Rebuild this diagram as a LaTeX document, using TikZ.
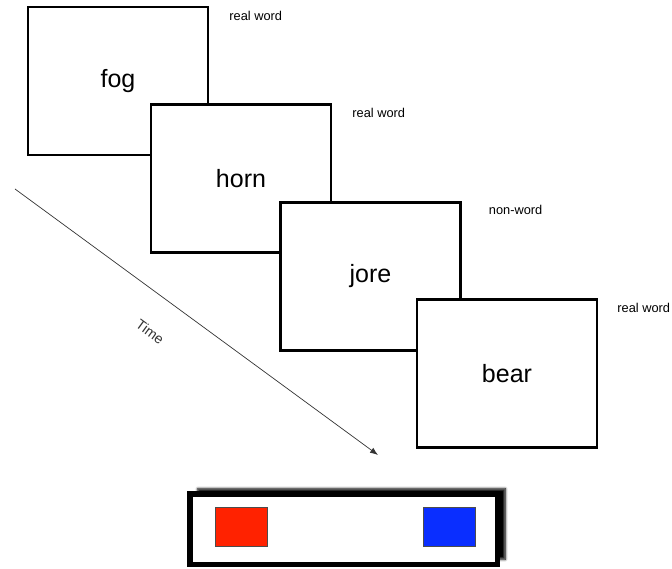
\documentclass[tikz,border=0pt]{standalone}
\usepackage{fontspec}
\setmainfont{Liberation Sans}
\usepackage{xcolor}
\usetikzlibrary{arrows.meta,positioning,calc,shadows.blur}
\definecolor{keyred}{RGB}{255,34,0}
\definecolor{keyblue}{RGB}{10,46,255}

\begin{document}
\begin{tikzpicture}[
    x=1pt, y=-1pt,
    every node/.style={font=\fontsize{12}{14}\selectfont},
    card/.style={
        rectangle,
        draw,
        fill=white,
        line width=2.4pt,
        minimum width=180pt,
        minimum height=148pt,
        font=\fontsize{25}{30}\selectfont
    },
    tag/.style={
        inner sep=0pt,
        font=\fontsize{12.8}{15}\selectfont
    },
    keybox/.style={
        rectangle,
        draw=black!70,
        line width=0.6pt,
        minimum width=52pt,
        minimum height=39pt,
        inner sep=0pt
    },
    arrow/.style={-{Latex[length=8pt,width=6pt]}, line width=0.7pt, black!80}
]
\useasboundingbox (0,0) rectangle (672,569);

% stimulus cards
\node[card] (fog) at (118,81) {fog};
\node[card] (horn) at (241,178.5) {horn};
\node[card] (jore) at (370.5,276.5) {jore};
\node[card] (bear) at (507,373.5) {bear};

\node[tag, below right=5pt and 20pt of fog.north east] (fogtag) {real word};
\node[tag, below right=5pt and 20pt of horn.north east] (horntag) {real word};
\node[tag, below right=4pt and 27pt of jore.north east] (joretag) {non-word};
\node[tag, below right=5pt and 19pt of bear.north east] (beartag) {real word};

% time axis
\coordinate (tstart) at (15,189);
\coordinate (tend) at (378,455);
\draw[arrow] (tstart) -- node[pos=0.43, sloped, below=30pt, inner sep=0pt,
    font=\fontsize{14}{16}\selectfont] (timelab) {Time} (tend);

% response box
\node[draw, fill=white, line width=5.5pt, minimum width=307.5pt, minimum height=70.5pt,
    blur shadow={shadow xshift=8pt, shadow yshift=5pt, shadow opacity=100,
    shadow blur radius=2.5pt, shadow blur steps=6}] (resp) at (343.5,529) {};
\node[keybox, fill=keyred, right=28pt of resp.west, yshift=2.5pt] (redkey) {};
\node[keybox, fill=keyblue, left=24pt of resp.east, yshift=2.5pt] (bluekey) {};

\end{tikzpicture}
\end{document}
